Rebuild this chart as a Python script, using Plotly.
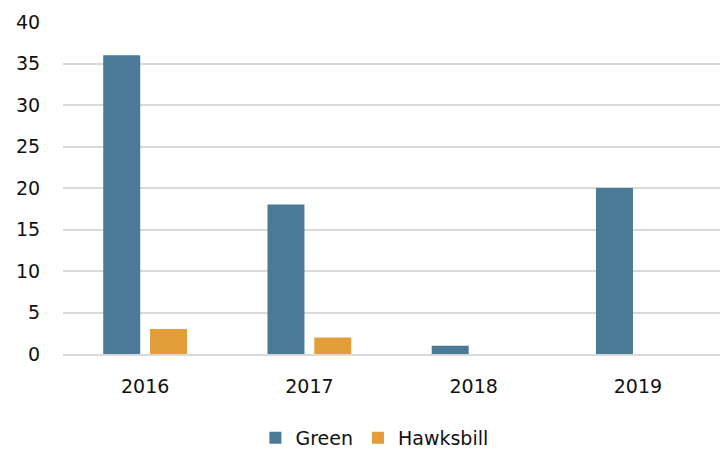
import plotly.graph_objects as go

years = ["2016", "2017", "2018", "2019"]
green = [36, 18, 1, 20]
hawksbill = [3, 2, 0, 0]

font_family = "DejaVu Sans"

fig = go.Figure()
fig.add_trace(go.Bar(name="Green", x=years, y=green, marker_color="#4A7A96",
                     marker_line_width=0))
fig.add_trace(go.Bar(name="Hawksbill", x=years, y=hawksbill, marker_color="#E39E3B",
                     marker_line_width=0))

fig.update_layout(
    width=720, height=450,
    margin=dict(l=63, r=0, t=22, b=96, autoexpand=False),
    paper_bgcolor="white", plot_bgcolor="white",
    barmode="group", bargap=0.43, bargroupgap=0.21,
    font=dict(family=font_family, size=19, color="#111111"),
    legend=dict(orientation="h", x=0.474, xanchor="center", y=-0.253, yanchor="middle",
                font=dict(size=19), itemwidth=30, traceorder="normal"),
    showlegend=True,
)
fig.update_xaxes(showgrid=False, showline=True, linecolor="#D9D9D9", linewidth=2,
                 ticks="outside", ticklen=14, tickcolor="rgba(0,0,0,0)")
fig.update_yaxes(range=[0, 40], dtick=5, showgrid=True, gridcolor="#D9D9D9",
                 gridwidth=2, zeroline=False, showline=False,
                 ticks="outside", ticklen=18, tickcolor="rgba(0,0,0,0)")

fig.write_html("out.html")
